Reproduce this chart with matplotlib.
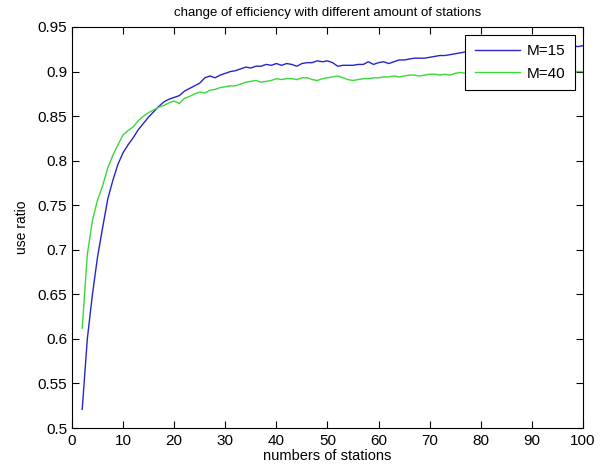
import matplotlib
matplotlib.use('Agg')
import matplotlib.pyplot as plt

# number of stations
stations = list(range(2, 101))

# use ratio, M=15
ratio_m15 = [
    0.521, 0.600, 0.650, 0.692, 0.725, 0.757, 0.778, 0.796, 0.809,
    0.818, 0.826, 0.835, 0.842, 0.849, 0.855, 0.861, 0.866, 0.869,
    0.871, 0.873, 0.878, 0.881, 0.884, 0.887, 0.893, 0.895, 0.893,
    0.896, 0.898, 0.900, 0.901, 0.903, 0.905, 0.904, 0.906, 0.906,
    0.908, 0.907, 0.909, 0.907, 0.909, 0.908, 0.906, 0.909, 0.910,
    0.910, 0.912, 0.911, 0.912, 0.910, 0.906, 0.907, 0.907, 0.907,
    0.908, 0.908, 0.911, 0.908, 0.910, 0.911, 0.909, 0.911, 0.913,
    0.913, 0.914, 0.915, 0.915, 0.915, 0.916, 0.917, 0.918, 0.918,
    0.919, 0.920, 0.921, 0.922, 0.923, 0.924, 0.924, 0.925, 0.924,
    0.925, 0.926, 0.925, 0.926, 0.927, 0.926, 0.927, 0.927, 0.928,
    0.927, 0.928, 0.928, 0.929, 0.928, 0.929, 0.929, 0.928, 0.929,
]

# use ratio, M=40
ratio_m40 = [
    0.612, 0.695, 0.733, 0.756, 0.772, 0.792, 0.806, 0.818, 0.829,
    0.834, 0.838, 0.845, 0.850, 0.854, 0.857, 0.860, 0.862, 0.865,
    0.867, 0.864, 0.870, 0.872, 0.875, 0.877, 0.876, 0.879, 0.880,
    0.882, 0.883, 0.884, 0.884, 0.886, 0.888, 0.889, 0.890, 0.888,
    0.889, 0.890, 0.892, 0.891, 0.892, 0.892, 0.891, 0.893, 0.893,
    0.891, 0.890, 0.892, 0.893, 0.894, 0.895, 0.893, 0.891, 0.890,
    0.891, 0.892, 0.892, 0.893, 0.893, 0.894, 0.894, 0.895, 0.894,
    0.895, 0.896, 0.896, 0.895, 0.896, 0.897, 0.897, 0.896, 0.897,
    0.896, 0.898, 0.899, 0.898, 0.899, 0.898, 0.899, 0.899, 0.898,
    0.899, 0.900, 0.899, 0.899, 0.900, 0.899, 0.900, 0.900, 0.899,
    0.900, 0.900, 0.899, 0.900, 0.900, 0.901, 0.900, 0.900, 0.900,
]

labels = ['M=15', 'M=40']
xticks = list(range(0, 101, 10))
yticks = [0.5, 0.55, 0.6, 0.65, 0.7, 0.75, 0.8, 0.85, 0.9, 0.95]
ytick_labels = ['0.5', '0.55', '0.6', '0.65', '0.7', '0.75', '0.8',
                '0.85', '0.9', '0.95']

plt.rcParams['font.family'] = ['Liberation Sans', 'DejaVu Sans']

fig = plt.figure(figsize=(6.05, 4.72), dpi=100)
ax = fig.add_axes([0.119, 0.0932, 0.8446, 0.8496])

ax.plot(stations, ratio_m15, color='#2626c8', lw=1.0, label=labels[0])
ax.plot(stations, ratio_m40, color='#3ad83a', lw=1.0, label=labels[1])

ax.set_xlim(0, 100)
ax.set_ylim(0.5, 0.95)
ax.set_xticks(xticks)
ax.set_yticks(yticks)
ax.set_yticklabels(ytick_labels)
ax.tick_params(direction='in', top=True, right=True, length=5,
               width=0.8, labelsize=11)
ax.tick_params(axis='x', pad=4)
ax.tick_params(axis='y', pad=3.5)
for s in ax.spines.values():
    s.set_linewidth(0.8)

ax.set_title('change of efficiency with different amount of stations',
             fontsize=9.5, pad=8)
ax.set_xlabel('numbers of stations', fontsize=10.5, labelpad=1)
ax.set_ylabel('use ratio', fontsize=10, labelpad=6)

leg = ax.legend(loc='upper right', fontsize=11, fancybox=False,
                framealpha=1, edgecolor='black', borderaxespad=0.52,
                handlelength=2.95, handletextpad=0.5, borderpad=0.6,
                labelspacing=0.55)
leg.get_frame().set_linewidth(0.8)

fig.savefig('out.png', dpi=100)
